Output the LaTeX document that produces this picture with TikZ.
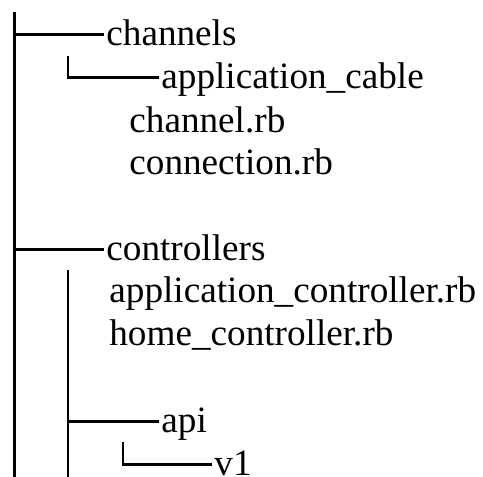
\documentclass[tikz,border=0pt]{standalone}
\usepackage{fontspec}
\setmainfont{Liberation Serif}
\usepackage{tikz}
\usetikzlibrary{positioning}

\begin{document}
\begin{tikzpicture}[
    x=0.5pt, y=-0.5pt,
    entry/.style={anchor=base west, inner xsep=1pt, inner ysep=0pt, text height=14.5pt, text depth=4pt, font=\fontsize{18.6}{22}\selectfont},
    branch/.style={line width=1.3pt, black}
]
\useasboundingbox (0,0) rectangle (483,477);

% folders and files
\node[entry] (channels) at (104,45) {channels};
\node[entry] (cable) at (159,88) {application\_cable};
\node[entry] (chrb) at (127,132) {channel.rb};
\node[entry] (connrb) at (127,174) {connection.rb};
\node[entry] (controllers) at (104,260) {controllers};
\node[entry] (appctrl) at (107,302) {application\_controller.rb};
\node[entry] (homectrl) at (107,345) {home\_controller.rb};
\node[entry] (api) at (159,432) {api};
\node[entry] (v1) at (212,475) {v1};

\coordinate (trunktop) at (14,12);
\coordinate (trunkbot) at (14,477);
\coordinate (cablestub) at (68,56);
\coordinate (ctrltop) at (68,270);
\coordinate (ctrlbot) at (68,477);
\coordinate (v1stub) at (123,442);

\draw[branch, line width=1.5pt] (trunktop) -- (trunkbot);
\draw[branch] (trunktop |- channels.west) -- (channels.west);
\draw[branch] (cablestub) |- (cable.west);
\draw[branch] (trunktop |- controllers.west) -- (controllers.west);
\draw[branch] (ctrltop) -- (ctrlbot);
\draw[branch] (ctrltop |- api.west) -- (api.west);
\draw[branch] (v1stub) |- (v1.west);
\end{tikzpicture}
\end{document}
